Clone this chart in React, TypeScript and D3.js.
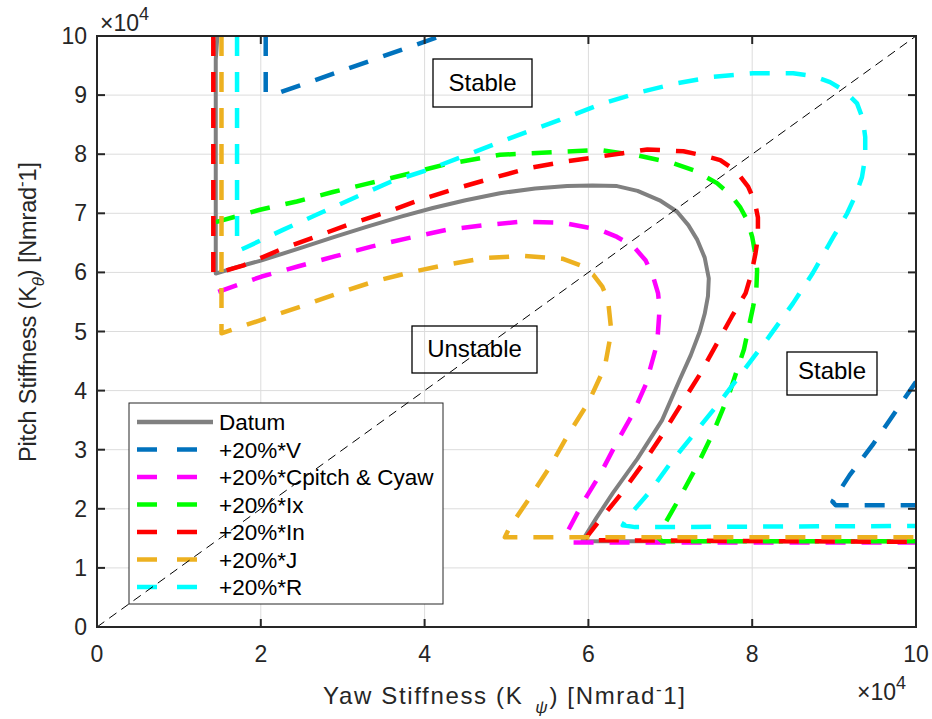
import * as d3 from 'd3';

// values in units of 1e4 (axis multiplier shown as x10^4)
const xTicks = [0, 2, 4, 6, 8, 10];
const yTicks = [0, 1, 2, 3, 4, 5, 6, 7, 8, 9, 10];

const datum: [number, number][] = [
  [1.47, 10], [1.45, 9.6], [1.45, 5.98], [1.66, 6.07], [2.0, 6.2], [2.48, 6.41], [2.9, 6.6], [3.29, 6.77],
  [3.7, 6.94], [4.1, 7.09], [4.5, 7.22], [4.92, 7.34], [5.35, 7.42], [5.74, 7.46], [6.05, 7.47],
  [6.35, 7.46], [6.6, 7.38], [6.87, 7.22], [7.08, 7.03], [7.22, 6.8], [7.33, 6.55], [7.42, 6.25],
  [7.47, 5.9], [7.46, 5.6], [7.42, 5.3], [7.36, 5.0], [7.25, 4.6], [7.12, 4.2], [6.9, 3.5],
  [6.6, 2.85], [6.3, 2.27], [6.1, 1.85], [5.93, 1.47], [6.0, 1.45], [10, 1.45],
];

const plusV: ([number, number] | null)[] = [
  [2.06, 10], [2.06, 9.05], [2.2, 9.03], [4.2, 10], null,
  [10, 4.15], [9.47, 3.08], [9.19, 2.57], [8.98, 2.12], [9.02, 2.06], [10, 2.06],
];

const plusC: [number, number][] = [
  [1.48, 5.67], [2.01, 5.93], [2.45, 6.1], [2.9, 6.27], [3.36, 6.44], [3.8, 6.58], [4.27, 6.72],
  [4.74, 6.8], [5.2, 6.86], [5.68, 6.84], [6.14, 6.72], [6.35, 6.6], [6.55, 6.44], [6.7, 6.2],
  [6.79, 5.93], [6.85, 5.65], [6.87, 5.4], [6.84, 4.8], [6.7, 4.1], [6.54, 3.6], [6.36, 3.16],
  [6.15, 2.6], [5.93, 2.1], [5.74, 1.6], [5.8, 1.43], [10, 1.43],
];

const plusIx: [number, number][] = [
  [1.45, 6.85], [1.99, 7.06], [2.44, 7.2], [2.88, 7.36], [3.33, 7.51], [3.78, 7.66], [4.23, 7.82],
  [4.92, 7.99], [5.65, 8.04], [6.14, 8.07], [6.6, 7.98], [7.03, 7.85], [7.3, 7.72], [7.57, 7.51],
  [7.73, 7.32], [7.85, 7.11], [7.94, 6.88], [8.0, 6.6], [8.04, 6.3], [8.06, 6.04], [8.05, 5.7],
  [8.01, 5.41], [7.9, 4.7], [7.72, 3.95], [7.52, 3.28], [7.32, 2.71], [7.12, 2.2], [6.91, 1.69],
  [6.86, 1.5], [6.9, 1.45], [10, 1.45],
];

const plusIn: [number, number][] = [
  [1.42, 10], [1.42, 5.97], [1.79, 6.12], [2.23, 6.38], [2.66, 6.6], [3.09, 6.82], [3.54, 7.02],
  [3.97, 7.24], [4.41, 7.43], [4.84, 7.6], [5.29, 7.77], [5.69, 7.87], [6.14, 7.96], [6.72, 8.08],
  [7.16, 8.05], [7.4, 7.98], [7.61, 7.9], [7.8, 7.72], [7.95, 7.45], [8.03, 7.2], [8.07, 6.93],
  [8.07, 6.6], [8.04, 6.32], [7.99, 5.98], [7.92, 5.65], [7.75, 5.25], [7.35, 4.25], [6.9, 3.25],
  [6.67, 2.77], [6.41, 2.27], [6.14, 1.81], [5.95, 1.47], [10, 1.44],
];

const plusJ: [number, number][] = [
  [1.52, 10], [1.52, 4.97], [1.99, 5.19], [2.48, 5.42], [2.93, 5.64], [3.37, 5.84], [3.82, 6.0],
  [4.27, 6.13], [4.71, 6.24], [5.2, 6.28], [5.69, 6.23], [5.9, 6.12], [6.06, 5.96], [6.17, 5.76],
  [6.24, 5.53], [6.28, 5.0], [6.2, 4.4], [6.0, 3.8], [5.75, 3.25], [5.53, 2.71], [5.29, 2.2],
  [5.04, 1.69], [4.98, 1.52], [10, 1.52],
];

const plusR: [number, number][] = [
  [1.71, 10], [1.71, 6.6], [1.75, 6.38], [1.83, 6.43], [2.27, 6.72], [2.72, 7.0], [3.17, 7.28],
  [3.58, 7.53], [4.03, 7.73], [4.5, 7.98], [5.0, 8.25], [5.65, 8.58], [6.18, 8.86], [6.63, 9.05],
  [7.08, 9.2], [7.52, 9.31], [8.01, 9.37], [8.5, 9.37], [8.75, 9.32], [8.95, 9.22], [9.13, 9.07],
  [9.28, 8.86], [9.35, 8.6], [9.38, 8.29], [9.38, 7.95], [9.34, 7.61], [9.26, 7.3], [9.16, 7.0],
  [8.99, 6.6], [8.74, 5.99], [8.5, 5.48], [8.2, 4.9], [7.9, 4.35], [7.6, 3.8], [7.28, 3.25],
  [7.0, 2.77], [6.75, 2.29], [6.47, 1.84], [6.42, 1.72], [6.57, 1.69], [10, 1.71],
];

const seriesNames = ['Datum', '+20%*V', '+20%*Cpitch & Cyaw', '+20%*Ix', '+20%*In', '+20%*J', '+20%*R'];
const seriesColors = ['#808080', '#0072BD', '#FF00FF', '#00FF00', '#FF0000', '#EDB120', '#00FFFF'];
const seriesData = [datum, plusV, plusC, plusIx, plusIn, plusJ, plusR];

const regionLabels = [
  { text: 'Stable', box: [433, 59, 532, 107] },
  { text: 'Unstable', box: [412, 326, 537, 373] },
  { text: 'Stable', box: [787, 352, 877, 395] },
];

const W = 932;
const H = 719;
const margin = { left: 97, top: 36, right: 16, bottom: 92 };
const font = "'Liberation Sans', Arial, Helvetica, sans-serif";
const axisColor = '#262626';

export default function App() {
  const x = d3.scaleLinear().domain([0, 10]).range([margin.left, W - margin.right]);
  const y = d3.scaleLinear().domain([0, 10]).range([H - margin.bottom, margin.top]);
  const [x0, x1] = x.range();
  const [y0, y1] = y.range();

  const line = d3
    .line<[number, number] | null>()
    .defined((d) => d !== null)
    .x((d) => x(d![0]))
    .y((d) => y(d![1]))
    .curve(d3.curveLinear);

  const legendX = 129;
  const legendY = 403;
  const rowH = 27.5;

  return (
    <svg width={W} height={H} style={{ position: 'absolute', left: 0, top: 0, background: '#fff' }} fontFamily={font}>
      <rect x={0} y={0} width={W} height={H} fill="#fff" />
      <defs>
        <clipPath id="plotClip">
          <rect x={x0} y={y1} width={x1 - x0} height={y0 - y1} />
        </clipPath>
      </defs>

      {/* grid */}
      {xTicks.slice(1, -1).map((t) => (
        <line key={'gx' + t} x1={x(t)} x2={x(t)} y1={y0} y2={y1} stroke="#dcdcdc" strokeWidth={1} />
      ))}
      {yTicks.slice(1, -1).map((t) => (
        <line key={'gy' + t} x1={x0} x2={x1} y1={y(t)} y2={y(t)} stroke="#dcdcdc" strokeWidth={1} />
      ))}

      {/* curves */}
      <g clipPath="url(#plotClip)">
        {seriesData.map((pts, i) => (
          <path
            key={i}
            d={line(pts as ([number, number] | null)[]) || ''}
            fill="none"
            stroke={seriesColors[i]}
            strokeWidth={i === 0 ? 4 : 4.5}
            strokeDasharray={i === 0 ? undefined : '20 16'}
            strokeLinejoin="round"
          />
        ))}
      </g>

      {/* legend */}
      <rect x={legendX} y={legendY} width={314} height={201} fill="#fff" stroke={axisColor} strokeWidth={1} />
      {seriesNames.map((name, i) => {
        const cy = legendY + 19 + i * rowH;
        return (
          <g key={name}>
            <line
              x1={137}
              x2={i === 0 ? 213 : 197}
              y1={cy}
              y2={cy}
              stroke={seriesColors[i]}
              strokeWidth={4.5}
              strokeDasharray={i === 0 ? undefined : '20 20'}
            />
            <text x={219} y={cy + 8} fontSize={22.5} fill="#000">
              {name}
            </text>
          </g>
        );
      })}

      {/* diagonal reference */}
      <line x1={x(0)} y1={y(0)} x2={x(10)} y2={y(10)} stroke="#000" strokeWidth={1} strokeDasharray="9 6" />

      {/* region text boxes */}
      {regionLabels.map((r, i) => (
        <g key={i}>
          <rect x={r.box[0]} y={r.box[1]} width={r.box[2] - r.box[0]} height={r.box[3] - r.box[1]} fill="none" stroke="#000" strokeWidth={1.3} />
          <text x={(r.box[0] + r.box[2]) / 2} y={r.box[3] - 16} textAnchor="middle" fontSize={24} fill="#000">
            {r.text}
          </text>
        </g>
      ))}

      {/* axes box and ticks */}
      <rect x={x0} y={y1} width={x1 - x0} height={y0 - y1} fill="none" stroke={axisColor} strokeWidth={2} />
      {xTicks.map((t) => (
        <g key={'tx' + t}>
          <line x1={x(t)} x2={x(t)} y1={y0} y2={y0 - 8} stroke={axisColor} strokeWidth={2} />
          <line x1={x(t)} x2={x(t)} y1={y1} y2={y1 + 8} stroke={axisColor} strokeWidth={2} />
          <text x={x(t)} y={y0 + 35} textAnchor="middle" fontSize={23} fill={axisColor}>
            {t}
          </text>
        </g>
      ))}
      {yTicks.map((t) => (
        <g key={'ty' + t}>
          <line x1={x0} x2={x0 + 8} y1={y(t)} y2={y(t)} stroke={axisColor} strokeWidth={2} />
          <line x1={x1} x2={x1 - 8} y1={y(t)} y2={y(t)} stroke={axisColor} strokeWidth={2} />
          <text x={x0 - 10} y={y(t) + 8} textAnchor="end" fontSize={23} fill={axisColor}>
            {t}
          </text>
        </g>
      ))}

      {/* exponent labels */}
      <text x={100} y={31} fontSize={23} fill={axisColor}>
        ×10<tspan dy={-11} fontSize={18}>4</tspan>
      </text>
      <text x={857} y={700} fontSize={23} fill={axisColor}>
        ×10<tspan dy={-11} fontSize={18}>4</tspan>
      </text>

      {/* axis labels */}
      <text x={323} y={704} fontSize={24} fill={axisColor} textLength={362} lengthAdjust="spacing">
        Yaw Stiffness (K
        <tspan dx={12} dy={9} fontSize={17} fontStyle="italic">ψ</tspan>
        <tspan dy={-9}>) [Nmrad</tspan>
        <tspan dy={-9} fontSize={17}>-</tspan>
        <tspan dy={9}>1]</tspan>
      </text>
      <text transform="translate(36,462) rotate(-90)" fontSize={23.5} fill={axisColor} textLength={300} lengthAdjust="spacing">
        Pitch Stiffness (K
        <tspan dy={8} fontSize={17} fontStyle="italic">θ</tspan>
        <tspan dy={-8}>) [Nmrad</tspan>
        <tspan dy={-9} fontSize={17}>-</tspan>
        <tspan dy={9}>1]</tspan>
      </text>
    </svg>
  );
}
